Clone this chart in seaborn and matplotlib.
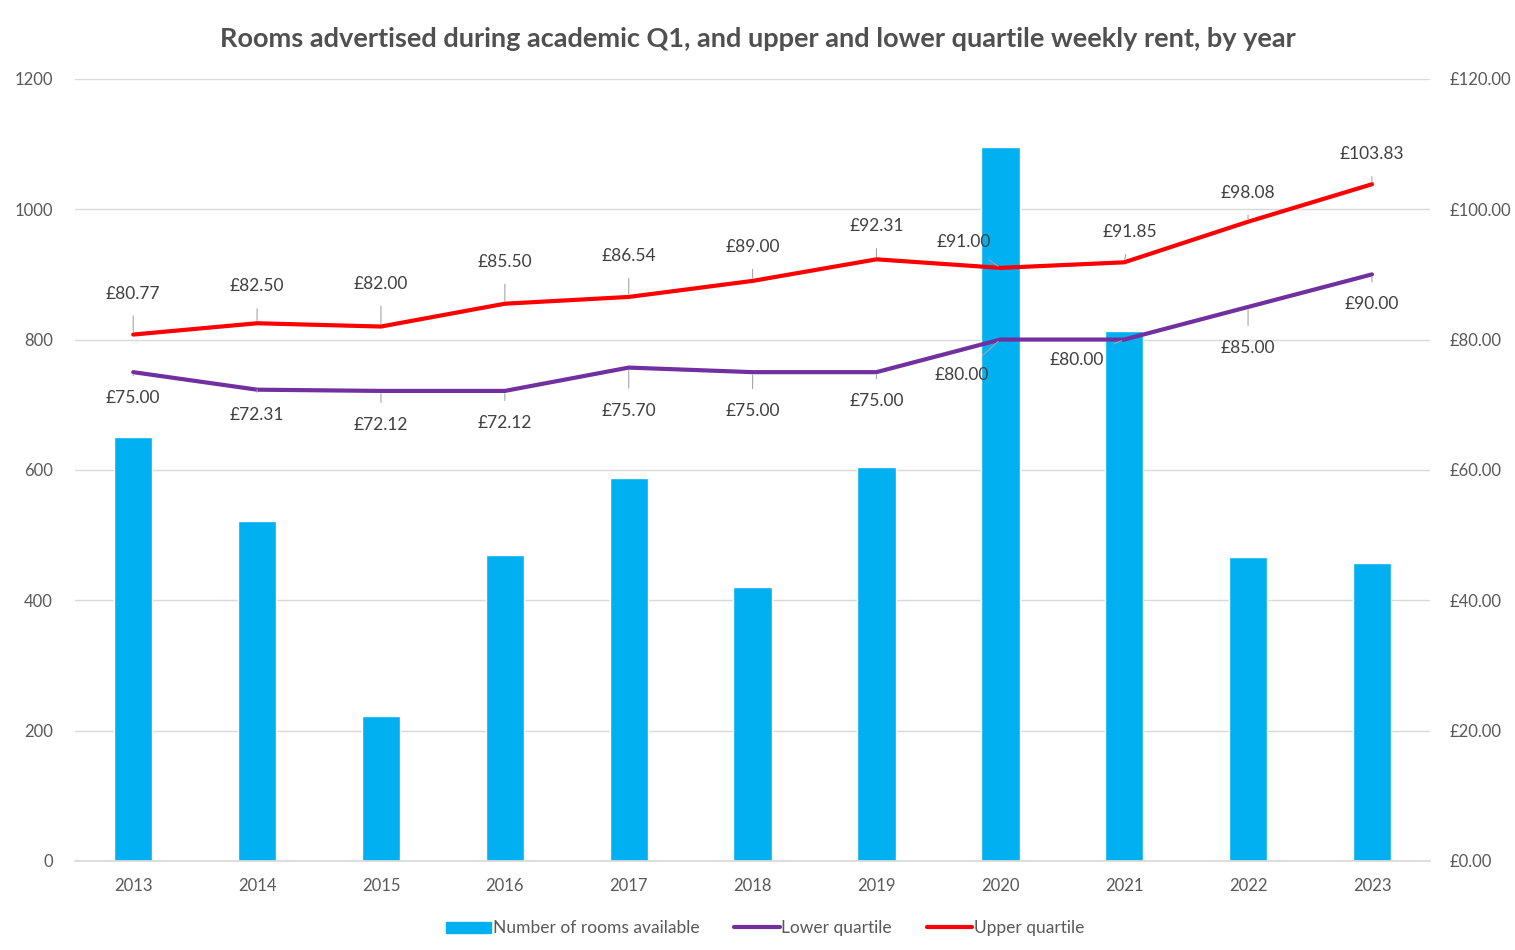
import numpy as np
import pandas as pd
import seaborn as sns
import matplotlib.pyplot as plt
from matplotlib.patches import Patch
from matplotlib.lines import Line2D

sns.set_theme(style="white")
plt.rcParams["font.family"] = ["Lato", "DejaVu Sans"]

years = ["2013", "2014", "2015", "2016", "2017", "2018", "2019", "2020", "2021", "2022", "2023"]
rooms = [651, 522, 222, 470, 588, 420, 605, 1096, 813, 467, 457]
lower_q = [75.00, 72.31, 72.12, 72.12, 75.70, 75.00, 75.00, 80.00, 80.00, 85.00, 90.00]
upper_q = [80.77, 82.50, 82.00, 85.50, 86.54, 89.00, 92.31, 91.00, 91.85, 98.08, 103.83]

# label offsets in pixels (dx, dy), dy positive = up
upper_off = [(0, 41), (0, 37), (0, 43), (0, 42), (0, 41), (0, 34), (0, 33), (-37, 26), (6, 30), (0, 29), (0, 30)]
lower_off = [(0, -26), (0, -25), (0, -34), (0, -32), (0, -43), (0, -39), (0, -29), (-39, -35), (-47, -20), (0, -41), (0, -30)]

df = pd.DataFrame({"year": years, "rooms": rooms})
x = np.arange(len(years))

bar_c = "#00B0F0"
low_c = "#7030A0"
up_c = "#FF0000"
txt_c = "#595959"

fig = plt.figure(figsize=(15.15, 9.5), dpi=100)
ax = fig.add_axes([0.0495, 0.0937, 0.8945, 0.8233])
sns.barplot(data=df, x="year", y="rooms", color=bar_c, saturation=1, width=0.31, ax=ax)
ax.set_ylim(0, 1200)
ax.set_yticks(range(0, 1201, 200))
ax.set_xlim(-0.47, 10.47)
ax.set_xlabel("")
ax.set_ylabel("")
ax.yaxis.grid(True, color="#D9D9D9", linewidth=1)
ax.set_axisbelow(True)
for s in ["top", "right", "left"]:
    ax.spines[s].set_visible(False)
ax.spines["bottom"].set_color("#D9D9D9")
ax.tick_params(axis="both", length=0, labelsize=12, colors=txt_c)
ax.tick_params(axis="y", pad=16)
ax.tick_params(axis="x", pad=12)

ax2 = ax.twinx()
sns.lineplot(x=x, y=lower_q, color=low_c, linewidth=3, ax=ax2)
sns.lineplot(x=x, y=upper_q, color=up_c, linewidth=3, ax=ax2)
ax2.set_ylim(0, 120)
ax2.set_yticks(range(0, 121, 20))
ax2.set_yticklabels([f"£{v:.2f}" for v in range(0, 121, 20)])
ax2.set_xlim(-0.47, 10.47)
for s in ["top", "right", "left", "bottom"]:
    ax2.spines[s].set_visible(False)
ax2.tick_params(axis="y", length=0, labelsize=12, colors=txt_c, pad=14)

for vals, offs in [(upper_q, upper_off), (lower_q, lower_off)]:
    for xi, v, (dx, dy) in zip(x, vals, offs):
        ax2.annotate(f"£{v:.2f}", xy=(xi, v), xytext=(dx, dy), textcoords="offset pixels",
                     ha="center", va="center", fontsize=12.5, color="#404040",
                     arrowprops=dict(arrowstyle="-", color="#A6A6A6", lw=0.8, shrinkA=8, shrinkB=2))

fig.suptitle("Rooms advertised during academic Q1, and upper and lower quartile weekly rent, by year",
             x=0.5, y=0.972, fontsize=19.5, fontweight="bold", color="#505050")

handles = [Patch(color=bar_c, label="Number of rooms available"),
           Line2D([], [], color=low_c, lw=3, label="Lower quartile"),
           Line2D([], [], color=up_c, lw=3, label="Upper quartile")]
fig.legend(handles=handles, loc="center", bbox_to_anchor=(0.505, 0.023), ncol=3, frameon=False,
           fontsize=12.5, labelcolor=txt_c, handlelength=2.6, handleheight=0.6,
           handletextpad=0.1, columnspacing=2.0)

fig.savefig("out.png", dpi=100)
